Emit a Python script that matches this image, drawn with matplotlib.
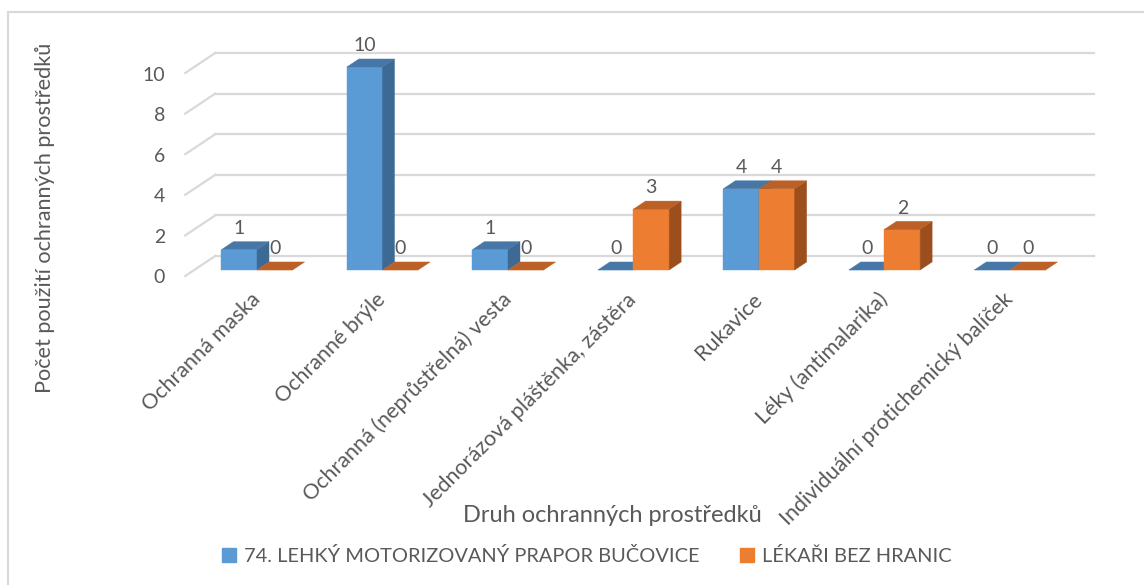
import numpy as np
import matplotlib.pyplot as plt
from matplotlib.patches import Polygon, Patch, Rectangle

categories = ["Ochranná maska", "Ochranné brýle", "Ochranná (neprůstřelná) vesta",
              "Jednorázová pláštěnka, zástěra", "Rukavice", "Léky (antimalarika)",
              "Individuální protichemický balíček"]
series_names = ["74. LEHKÝ MOTORIZOVANÝ PRAPOR BUČOVICE", "LÉKAŘI BEZ HRANIC"]
army = [1, 10, 1, 0, 4, 0, 0]
msf = [0, 0, 0, 3, 4, 2, 0]
yticks = [0, 2, 4, 6, 8, 10]

plt.rcParams['font.family'] = ['Lato', 'DejaVu Sans']
txt = '#595959'
grid = '#d9d9d9'

fig = plt.figure(figsize=(11.44, 5.85), dpi=100)
ax = fig.add_axes([0, 0, 1, 1])
ax.set_xlim(-2.048, 7.068)
ax.set_ylim(-15.52, 13.30)
ax.axis('off')

# oblique "3D" depth vector (category units, value units)
dx, dy = 0.239, 0.985
front, back = -0.3, 0.7
bd = 0.4
width = 0.284
n = len(categories)
x = np.arange(n)

# walls: gridlines at the back and short diagonals on the left side
for v in yticks:
    ax.plot([-0.5 + back * dx, n - 0.5 + back * dx], [v + back * dy] * 2,
            color=grid, lw=1.6, zorder=1)
    ax.plot([-0.5 + front * dx, -0.5 + back * dx], [v + front * dy, v + back * dy],
            color=grid, lw=1.6, zorder=1)
    ax.text(-0.733, v + front * dy - 0.1, str(v), ha='right', va='center',
            fontsize=14, color=txt)

styles = [
    (army, -width / 2, ('#5b9bd5', '#3c6a94', '#4677a6'), 2),
    (msf, width / 2, ('#ed7d31', '#9c4f1d', '#bb6026'), 3),
]
for vals, off, (c_front, c_side, c_top), z in styles:
    ax.bar(x + off, vals, width, color=c_front, edgecolor=c_front, lw=0.3, zorder=z)
    for xi, v in zip(x, vals):
        left, right = xi + off - width / 2, xi + off + width / 2
        side = [(right, 0), (right, v), (right + bd * dx, v + bd * dy), (right + bd * dx, bd * dy)]
        top = [(left, v), (right, v), (right + bd * dx, v + bd * dy), (left + bd * dx, v + bd * dy)]
        if v > 0:
            ax.add_patch(Polygon(side, closed=True, fc=c_side, ec=c_side, lw=0.3, zorder=z + 0.1))
        ax.add_patch(Polygon(top, closed=True, fc=c_top, ec=c_top, lw=0.3, zorder=z + 0.2))
        ax.text(xi + off, v + 1.05, str(v), ha='center', va='center', fontsize=14, color=txt)

for xi, cat in zip(x, categories):
    ax.text(xi + 0.0, -1.3, cat, rotation=45, rotation_mode='anchor',
            ha='right', va='center', fontsize=15.5, color=txt)

fig.text(612 / 1144, 1 - 515 / 585, "Druh ochranných prostředků", ha='center', va='center',
         fontsize=17, color=txt)
fig.text(45 / 1144, 1 - 218 / 585, "Počet použití ochranných prostředků", ha='center',
         va='center', rotation=90, fontsize=15.6, color=txt)

handles = [Patch(color='#5b9bd5'), Patch(color='#ed7d31')]
fig.legend(handles, series_names, loc='center', bbox_to_anchor=(587 / 1144, 1 - 556 / 585),
           ncol=2, frameon=False, fontsize=14.4, labelcolor=txt, handlelength=0.7,
           handleheight=0.7, handletextpad=0.4, columnspacing=2.0)

fig.patches.append(Rectangle((8 / 1144, -0.1), 1.2, 1.1 - 12 / 585, transform=fig.transFigure,
                             fill=False, edgecolor=grid, lw=1.5))

fig.savefig('out.png', dpi=100)
